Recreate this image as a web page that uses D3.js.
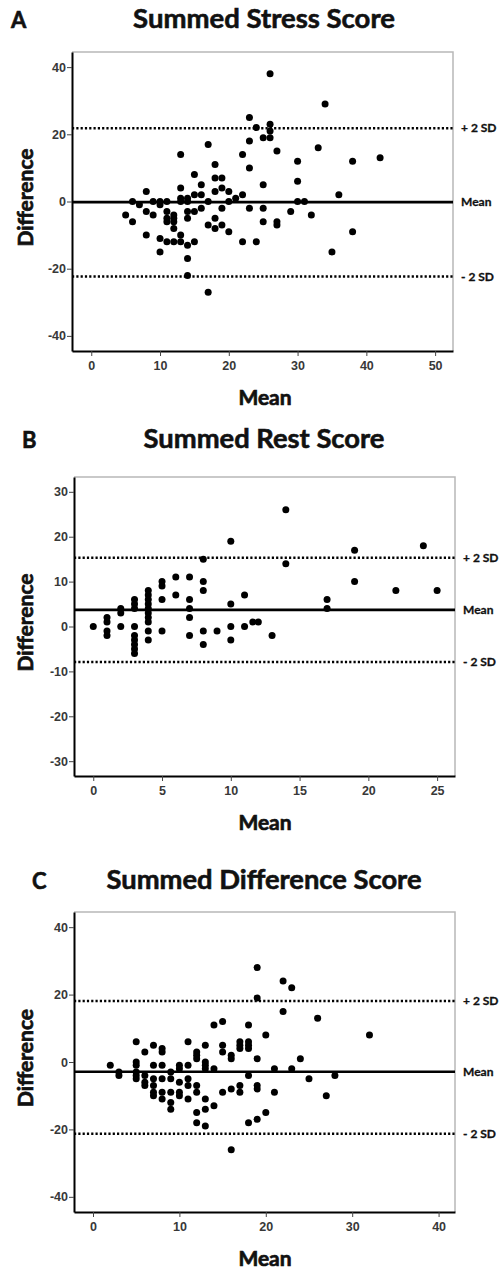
<!DOCTYPE html>
<html>
<head>
<meta charset="utf-8">
<script src="https://cdn.jsdelivr.net/npm/d3@7"></script>
<style>
  body { margin: 0; background: #fff; }
  svg { display: block; }
  .tick text { font-family: "Liberation Sans", Arial, sans-serif; font-size: 12.5px; font-weight: bold; fill: #383838; }
</style>
</head>
<body>
<div id="chart"></div>
<script>
// [mean, difference] pairs
const stressPoints = [[26,38],[34,29],[23,25],[24,22],[26,23],[26,21],[25,19],[26,19],[23,18],[17,17],[33,16],[27,15],
  [13,14],[22,14],[30,12],[38,12],[42,13],[18,11],[23,10],[15,8],[18,7],[19,7],[16,5],[25,5],[30,6],[13,4],[8,3],[18,3],
  [19,4],[20,3],[15,2],[16,2],[22,2],[36,2],[13,1],[14,1],[21,1],[6,0],[7,-1],[9,0],[10,0],[11,0],[13,0],[14,0],[17,0],
  [20,0],[30,0],[31,0],[5,-4],[6,-6],[8,-3],[9,-4],[10,-1],[11,-3],[11,-5],[11,-6],[12,-4],[12,-5],[12,-6],[12,-8],
  [14,-3],[14,-5],[15,-3],[16,-2],[17,-7],[18,-5],[18,-8],[19,-2],[19,-7],[20,-9],[23,-2],[25,-2],[25,-6],[27,-6],
  [27,-7],[29,-3],[32,-4],[8,-10],[10,-11],[11,-12],[12,-12],[13,-12],[13,-10],[14,-13],[15,-12],[22,-12],[24,-12],
  [10,-15],[14,-17],[14,-22],[35,-15],[38,-9],[17,-27]];

const restPoints = [[14,26],[10,19],[19,17],[24,18],[8,15],[14,14],[0,0],[1,2],[1,1],[1,-1],[1,-2],[2,4],[2,3],[2,0],
  [3,6],[3,5],[3,4],[3,0],[3,-2],[3,-3],[3,-4],[3,-5],[3,-6],[4,8],[4,7],[4,6],[4,5],[4,4],[4,3],[4,2],[4,1],[4,-1],
  [4,-3],[5,10],[5,9],[5,6],[5,-1],[6,11],[6,7],[7,11],[7,6],[7,4],[7,2],[7,-2],[8,10],[8,8],[8,-1],[8,-4],[9,-1],
  [10,5],[10,0],[10,-3],[11,7],[11,0],[12,1],[11.6,1],[13,-2],[17,6],[17,4],[19,10],[22,8],[25,8]];

const differencePoints = [[19,28],[22,24],[23,22],[19,19],[22,15],[26,13],[32,8],[14,11],[15,12],[18,11],[20,8],[5,6],
  [6,3],[7,5],[8,4],[8,3],[11,6],[12,3],[12,2],[12,1],[13,5],[13,0],[13,-1],[15,5],[15,3],[16,2],[16,1],[17,6],[17,5],
  [17,4],[18,6],[18,5],[18,4],[19,1],[24,1],[2,-1],[3,-3],[3,-4],[5,0],[5,-1],[5,-3],[5,-4],[5,-5],[6,-4],[6,-6],
  [6,-7],[7,-1],[7,-5],[7,-7],[7,-9],[7,-10],[8,-1],[8,-5],[8,-9],[8,-11],[9,-3],[9,-5],[9,-9],[9,-12],[9,-14],
  [10,-1],[10,-2],[10,-6],[10,-9],[10,-10],[11,-1],[11,-5],[11,-7],[11,-11],[12,-7],[12,-9],[13,-2],[13,-11],[13,-14],
  [12,-15],[14,-2],[14,-13],[15,-9],[16,-8],[17,-7],[17,-9],[18,-4],[19,-7],[19,-8],[21,-2],[21,-9],[23,-2],[25,-5],
  [28,-4],[27,-10],[20,-15],[19,-17],[18,-18],[12,-18],[13,-19],[16,-26]];

// +2 SD, mean, -2 SD
const limitLabels = ["+ 2 SD", "Mean", "- 2 SD"];
const stressLimits = [21.8, -0.2, -22.3];
const restLimits = [15.3, 3.7, -7.9];
const differenceLimits = [18.1, -2.9, -21.3];

const stressXTicks = [0, 10, 20, 30, 40, 50];
const restXTicks = [0, 5, 10, 15, 20, 25];
const differenceXTicks = [0, 10, 20, 30, 40];
const stressYTicks = [-40, -20, 0, 20, 40];
const restYTicks = [-30, -20, -10, 0, 10, 20, 30];
const differenceYTicks = [-40, -20, 0, 20, 40];

const panels = [
  { letter: "A", title: "Summed Stress Score", points: stressPoints, limits: stressLimits,
    xTicks: stressXTicks, yTicks: stressYTicks, xDomain: [-2.8, 52.6], yDomain: [-44.5, 44.5],
    left: 72, right: 453, top: 52, bottom: 351, titleW: 262, letterX: 11, letterY: 28 },
  { letter: "B", title: "Summed Rest Score", points: restPoints, limits: restLimits,
    xTicks: restXTicks, yTicks: restYTicks, xDomain: [-1.4, 26.3], yDomain: [-33.3, 33.3],
    left: 74, right: 455, top: 477, bottom: 776, titleW: 241, letterX: 22, letterY: 448 },
  { letter: "C", title: "Summed Difference Score", points: differencePoints, limits: differenceLimits,
    xTicks: differenceXTicks, yTicks: differenceYTicks, xDomain: [-2.2, 41.9], yDomain: [-44.5, 44.5],
    left: 74, right: 455, top: 912, bottom: 1212, titleW: 315, letterX: 32, letterY: 889 }
];

const svg = d3.select("#chart").append("svg")
  .attr("width", 504)
  .attr("height", 1274);

const BOLD = "Lato, 'Open Sans', sans-serif";

// Lato bold is a little light next to the original's Calibri, so thicken with a thin stroke
function heavy(sel, size, sw) {
  return sel.attr("font-family", BOLD)
    .attr("font-weight", "bold")
    .attr("font-size", size)
    .attr("fill", "#111")
    .attr("stroke", "#111")
    .attr("stroke-width", sw);
}

function fitText(sel, width) {
  const w = sel.node().getComputedTextLength();
  const fs = parseFloat(sel.attr("font-size"));
  sel.attr("font-size", fs * width / w);
}

panels.forEach(p => {
  const x = d3.scaleLinear().domain(p.xDomain).range([p.left, p.right]);
  const y = d3.scaleLinear().domain(p.yDomain).range([p.bottom, p.top]);
  const g = svg.append("g");

  // light top/right frame
  g.append("path")
    .attr("d", `M${p.left},${p.top}H${p.right}V${p.bottom}`)
    .attr("fill", "none")
    .attr("stroke", "#b8b8b8")
    .attr("stroke-width", 1.5);

  // mean and limits of agreement
  g.selectAll("line.limit")
    .data(p.limits)
    .enter().append("line")
    .attr("x1", p.left).attr("x2", p.right)
    .attr("y1", d => y(d)).attr("y2", d => y(d))
    .attr("stroke", "#000")
    .attr("stroke-width", (d, i) => i === 1 ? 2.6 : 2.5)
    .attr("stroke-dasharray", (d, i) => i === 1 ? null : "2.2,2.1");

  g.selectAll("text.limit")
    .data(p.limits)
    .enter().append("text")
    .attr("x", p.right + 8)
    .attr("y", d => y(d))
    .attr("dy", "0.35em")
    .call(heavy, 12, 0.3)
    .text((d, i) => limitLabels[i]);

  // points
  g.selectAll("circle")
    .data(p.points)
    .enter().append("circle")
    .attr("cx", d => x(d[0]))
    .attr("cy", d => y(d[1]))
    .attr("r", 3.5)
    .attr("fill", "#000");

  // axes
  const xAxis = g.append("g")
    .attr("transform", `translate(0,${p.bottom})`)
    .call(d3.axisBottom(x).tickValues(p.xTicks).tickSize(5).tickSizeOuter(0).tickPadding(5).tickFormat(d => String(d)));
  xAxis.select(".domain").attr("stroke-width", 2);
  xAxis.selectAll(".tick line").attr("stroke", "#444");

  const yAxis = g.append("g")
    .attr("transform", `translate(${p.left},0)`)
    .call(d3.axisLeft(y).tickValues(p.yTicks).tickSize(5).tickSizeOuter(0).tickPadding(1).tickFormat(d => String(d)));
  yAxis.select(".domain").attr("stroke-width", 2);
  yAxis.selectAll(".tick line").attr("stroke", "#444");

  // labels
  g.append("text")
    .attr("x", p.letterX)
    .attr("y", p.letterY)
    .call(heavy, 22, 0.6)
    .text(p.letter);

  const title = g.append("text")
    .attr("x", 264)
    .attr("y", p.letterY)
    .attr("text-anchor", "middle")
    .call(heavy, 20, 0.6)
    .text(p.title);
  fitText(title, p.titleW);

  g.append("text")
    .attr("x", 265)
    .attr("y", p.bottom + 54)
    .attr("text-anchor", "middle")
    .call(heavy, 21, 0.7)
    .text("Mean");

  g.append("text")
    .attr("transform", `translate(33,${(p.top + p.bottom) / 2 - 4})rotate(-90)`)
    .attr("text-anchor", "middle")
    .call(heavy, 21, 0.7)
    .text("Difference");
});
</script>
</body>
</html>
